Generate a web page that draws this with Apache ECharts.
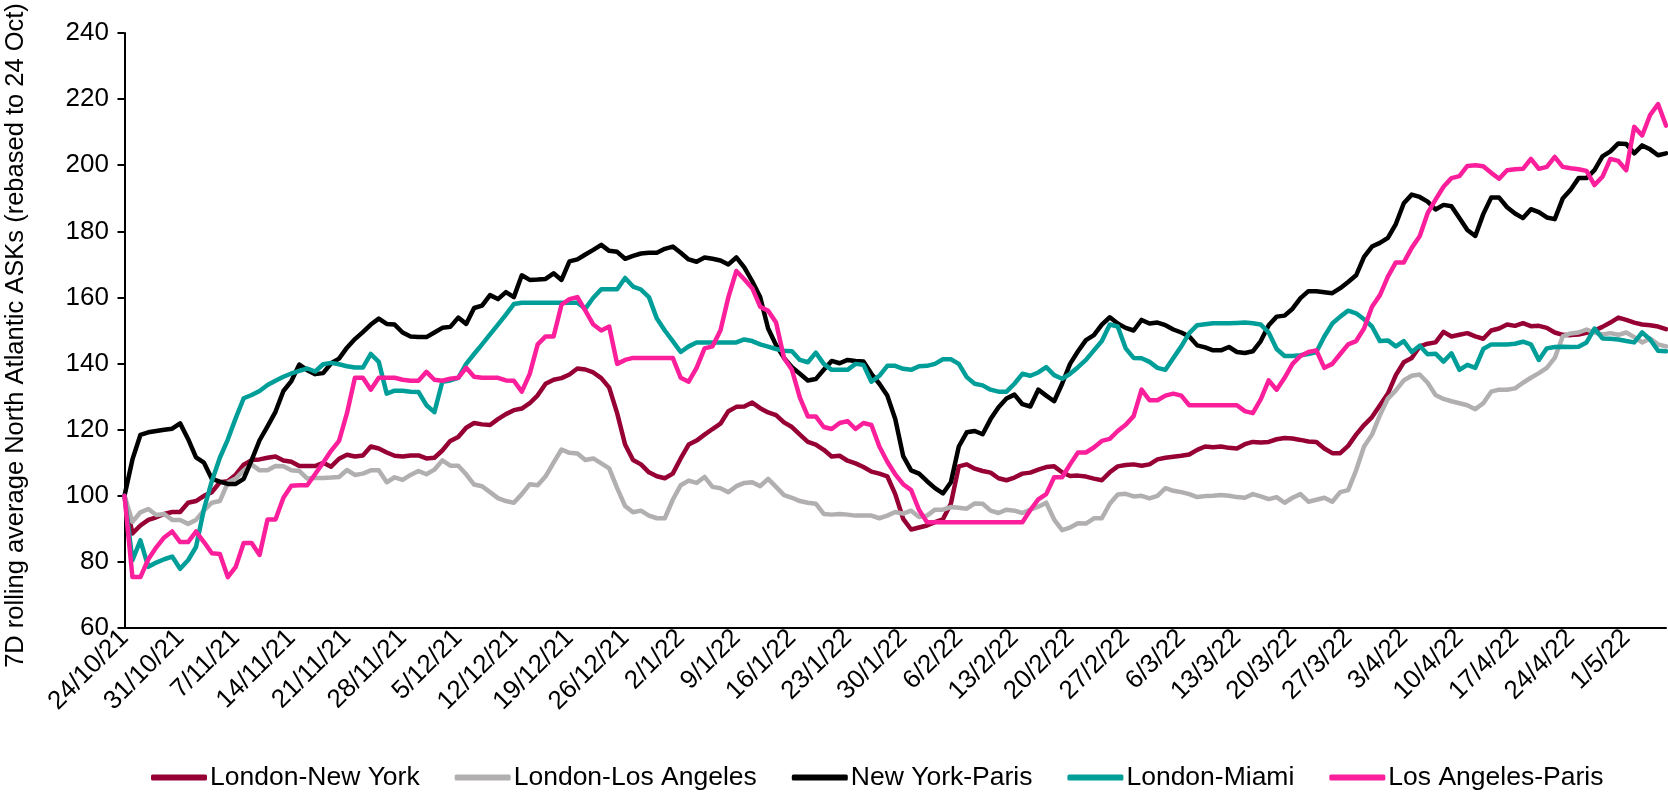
<!DOCTYPE html>
<html>
<head>
<meta charset="utf-8">
<script src="https://cdn.jsdelivr.net/npm/echarts@6/dist/echarts.min.js"></script>
<style>
html,body{margin:0;padding:0;background:#fff;}
#chart{width:1668px;height:796px;}
</style>
</head>
<body>
<div id="chart"></div>
<script>
// Daily categories from 24/10/21 (195 days)
const startDate = [2021, 9, 24];
const dayCount = 195;
const categories = [];
for (let i = 0; i < dayCount; i++) {
  const d = new Date(Date.UTC(startDate[0], startDate[1], startDate[2] + i));
  categories.push(d.getUTCDate() + '/' + (d.getUTCMonth() + 1) + '/' + String(d.getUTCFullYear() % 100));
}

const seriesNames = ['London-New York', 'London-Los Angeles', 'New York-Paris', 'London-Miami', 'Los Angeles-Paris'];
const yTicks = [60, 80, 100, 120, 140, 160, 180, 200, 220, 240];
const yTitle = '7D rolling average North Atlantic ASKs (rebased to 24 Oct)';

const londonNewYork = [100,88.6,91,92.7,93.5,94.5,95.1,95.1,97.9,98.4,
100,101.1,104.1,104.4,106.4,109.4,110.8,111,111.5,111.9,
110.7,110.3,109,109,109,110,108.8,111.2,112.4,111.9,
112.2,114.9,114.3,113.1,112.1,111.9,112.2,112.2,111.3,111.5,
113.7,116.6,117.8,120.6,122,121.6,121.4,123.2,124.7,125.9,
126.4,128,130.4,133.9,135.1,135.6,136.7,138.5,138.2,137.3,
135.6,132.7,125,115.5,110.8,109.5,107.1,105.9,105.3,106.7,
111.3,115.5,116.7,118.5,120.2,121.8,125.6,126.9,127,128.2,
126.5,125.2,124.4,122.2,120.8,118.5,116.3,115.5,113.9,111.9,
112.1,110.6,109.8,108.7,107.3,106.7,105.9,100.5,93,89.8,
90.4,91,92,92.9,97.6,108.9,109.5,108.2,107.5,107,
105.3,104.7,105.5,106.7,107,107.9,108.7,108.9,107.1,106,
106.1,105.8,105.2,104.7,107.1,108.9,109.3,109.5,109.1,109.5,
111,111.5,111.8,112.1,112.5,113.9,114.9,114.7,114.9,114.5,
114.3,115.6,116.3,116.1,116.3,117.1,117.5,117.3,116.9,116.4,
116.3,114.3,112.9,112.9,115.1,118.5,121.4,123.8,127.4,130.9,
136.5,140.4,141.7,145.2,146,146.4,149.6,148.2,148.7,149.2,
148.2,147.5,150,150.6,151.8,151.4,152.2,151.3,151.4,150.8,
149.4,148.7,148.6,148.8,149.3,150,151.1,152.4,153.9,153.2,
152.4,151.8,151.6,151.2,150.4];

const londonLosAngeles = [100,92.1,95,96,94.2,94.5,92.7,92.7,91.5,92.7,
95.6,97.9,98.4,104,105.2,107.7,109.4,107.7,107.7,109,
108.9,107.7,107.5,105.2,105.4,105.4,105.5,105.7,107.8,106.3,
106.7,107.7,107.7,104.1,105.6,104.8,106.3,107.5,106.5,107.9,
110.7,109.1,109.1,106.5,103.4,102.9,101.1,99.3,98.4,97.9,
100.5,103.5,103.2,105.9,110,114,113,112.8,110.8,111.3,
109.8,108.3,102.3,96.9,95,95.5,94,93.2,93.2,98.8,
103.2,104.6,103.9,105.7,102.7,102.3,101.1,102.9,103.9,104.1,
102.9,105.1,102.7,100.2,99.4,98.4,97.9,97.6,94.5,94.3,
94.5,94.3,94,94,94,93.2,94,95.1,94.6,95.5,
93.6,94,95.8,95.8,96.6,96.4,96.1,97.7,97.6,95.5,
94.8,95.8,95.5,94.8,95.8,96.7,97.9,92.8,89.6,90.4,
91.7,91.6,93.2,93.2,97.6,100.4,100.6,99.8,100,99.2,
100,102.3,101.5,101.1,100.5,99.6,99.9,100,100.2,100,
99.6,99.4,100.5,99.8,99,99.6,97.9,99.4,100.5,98.2,
98.8,99.4,98.2,101.1,101.7,107.7,114.9,118.5,124.4,129.4,
131.9,134.9,136.3,136.7,134.2,130.5,129.3,128.6,128,127.4,
126.2,128,131.5,132.1,132.1,132.5,134.2,135.7,137.1,138.7,
141.7,148.2,149.1,149.4,150.3,149.4,148.8,149.2,148.7,149.4,
148,146.4,147.6,145.8,145.2];

const newYorkParis = [100,111,118.4,119.2,119.6,120,120.3,121.9,117.2,111.6,
110,105.1,104.3,103.6,103.6,105.1,110.8,116.8,121,125.4,
131.7,134.7,139.7,138,136.8,137.1,140.1,141.5,144.8,147.4,
149.5,151.8,153.6,152,151.8,149.4,148.2,148,148,149.4,
150.8,151.1,153.9,152,156.8,157.5,160.7,159.5,161.6,160.1,
166.7,165.3,165.4,165.6,167.3,165.3,170.9,171.5,173,174.4,
175.9,174.1,173.8,171.7,172.6,173.3,173.5,173.5,174.7,175.4,
173.5,171.5,170.8,172.1,171.7,171.2,170,172.1,169.1,164.9,
160.1,150.6,145.6,141.7,138.9,136.9,134.9,135.3,138.1,140.8,
140.1,141.1,140.8,140.6,136.9,133.9,130.3,123.2,112,107.7,
106.7,104.4,102.3,100.7,104.1,114.9,119.2,119.6,118.6,123.2,
126.8,129.4,130.6,127.7,127,132.1,130.3,128.6,133.9,139.9,
143.7,147.1,148.6,151.8,154,152.1,150.8,150,153.2,152.1,
152.4,151.6,150.3,149.4,148.2,145.5,144.9,144,144,145,
143.5,143.2,143.7,146.8,151.6,154.2,154.5,156.6,159.8,161.9,
161.9,161.6,161.3,162.8,164.7,166.7,172.3,175.4,176.5,178,
182.2,188.5,191.1,190.4,189,186.6,188,187.6,184,180.4,
178.6,185.2,190.2,190.2,187.3,185.4,184,186.7,185.8,184.2,
183.7,189.9,192.6,196.1,196.1,198.5,202.7,204.2,206.6,206.4,
203.6,206,204.8,203,203.6];

const londonMiami = [100,80.5,86.5,78.5,79.8,80.8,81.6,77.9,80.5,84.5,
96,104.5,111.5,117,123.5,129.5,130.5,131.7,133.5,134.8,
136,137,137.8,138.5,137.6,139.8,140.2,139.8,139.2,138.8,
138.8,142.9,140.5,130.9,131.8,131.8,131.5,131.4,127.4,125.3,
134.5,134.9,135.7,139.9,142.9,145.8,148.8,151.8,154.8,158,
158.4,158.4,158.4,158.4,158.4,158.4,158.4,158.4,156.6,159.9,
162.5,162.5,162.5,165.9,163.3,162.4,160.1,153.6,150,146.8,
143.5,145.2,146.4,146.4,146.4,146.4,146.4,146.4,147.3,146.8,
145.8,145.1,144.4,143.9,143.7,141.1,140.4,143.3,139.9,138.1,
138.1,138.1,139.9,139.6,134.5,136.3,139.3,139.3,138.4,138.1,
139.2,139.3,139.9,141.3,141.3,139.9,135.9,133.9,133.4,132.1,
131.5,131.5,133.9,136.9,136.3,137.3,138.9,136.5,135.4,136.9,
138.9,141.1,144,146.8,151.8,151.2,144.6,141.7,141.6,140.5,
138.7,138.1,141.7,145.2,149.2,151.6,151.9,152.2,152.2,152.2,
152.3,152.4,152.2,151.8,149.4,144.4,142.3,142.3,142.5,142.9,
143.5,148.2,152.1,154.2,156,155.2,153.4,151.2,146.8,147,
145.2,146.8,143.5,145.4,142.8,143,140.6,143.1,138.1,139.6,
138.7,144.4,145.8,145.8,145.8,146,146.6,145.8,141.1,144.6,
145,145.1,145,145.1,146.4,150.6,147.6,147.5,147.3,146.8,
146.4,149.4,147.3,143.9,143.7];

const losAngelesParis = [100,75.4,75.4,80.8,84.4,87.4,89.2,86,86,89.2,
86,82.6,82.4,75.4,78.5,85.7,85.7,82.1,92.8,92.8,
99.4,103,103.2,103.2,106.6,110,113.6,116.6,125,135.7,
135.7,132.1,135.7,135.7,135.7,135.1,134.8,134.8,137.5,135.1,
134.8,135.4,135.7,138.7,136,135.7,135.7,135.7,134.9,134.8,
131.5,136.9,145.8,148.2,148.2,157.8,159.5,160.1,156,151.8,
150,151.2,139.9,141.1,141.7,141.7,141.7,141.7,141.7,141.7,
135.7,134.5,138.7,144.6,145.2,150,160.1,168,165.5,162.8,
157.2,156,152.4,141.7,138.1,129.7,124,124,120.8,120.2,
122,122.6,120.2,122,121.4,114.9,110.3,106.5,103.5,101.7,
95.7,92,92,92,92,92,92,92,92,92,
92,92,92,92,95.7,98.9,100.5,105.6,105.6,109.5,
113.1,113.1,114.6,116.6,117.2,119.6,121.5,124.1,132.1,128.9,
128.9,130.3,130.9,130.3,127.4,127.4,127.4,127.4,127.4,127.4,
127.4,125.6,125,129.2,134.9,132.1,135.7,139.9,142.3,143.5,
144,138.7,139.9,142.9,145.8,146.8,150.6,157.2,160.7,166.3,
170.6,170.6,175,178.5,185.5,189.6,193.5,196.1,196.7,199.8,
200,199.7,197.7,195.9,198.5,198.8,198.9,201.9,198.9,199.5,
202.5,199.5,199.1,198.8,198.3,194,196.5,201.9,201.3,198.5,
211.6,209,215.2,218.5,212];

const seriesData = [londonNewYork, londonLosAngeles, newYorkParis, londonMiami, losAngelesParis];
const seriesColors = ['#960034', '#b1afaf', '#000000', '#009e99', '#fb1f9c'];

const FONT = '"Liberation Sans", Arial, sans-serif';

const chart = echarts.init(document.getElementById('chart'), null, {renderer: 'canvas'});
chart.setOption({
  animation: false,
  backgroundColor: '#ffffff',
  grid: {left: 124.5, right: 2, top: 33, bottom: 168, containLabel: false, outerBoundsMode: 'none'},
  graphic: [{
    type: 'text',
    x: 16,
    y: 335.5,
    rotation: Math.PI / 2,
    silent: true,
    style: {
      text: yTitle,
      fill: '#000',
      font: '25.5px "Liberation Sans", Arial, sans-serif',
      textAlign: 'center',
      textVerticalAlign: 'middle'
    }
  }],
  xAxis: {
    type: 'category',
    data: categories,
    boundaryGap: false,
    axisLine: {show: true, lineStyle: {color: '#000', width: 2}},
    axisTick: {show: false},
    splitLine: {show: false},
    axisLabel: {interval: 6, rotate: 45, margin: 6, color: '#000', fontSize: 26, fontFamily: FONT}
  },
  yAxis: {
    type: 'value',
    min: yTicks[0],
    max: yTicks[yTicks.length - 1],
    interval: yTicks[1] - yTicks[0],
    axisLine: {show: true, lineStyle: {color: '#000', width: 2}},
    axisTick: {show: true, length: 7, lineStyle: {color: '#000', width: 2}},
    axisLabel: {color: '#000', fontSize: 26, margin: 15.5, fontFamily: FONT},
    splitLine: {show: false}
  },
  legend: {
    data: seriesNames,
    left: 151,
    top: 764,
    padding: 0,
    itemWidth: 56,
    itemHeight: 6,
    itemGap: 35,
    icon: 'roundRect',
    textStyle: {fontSize: 26.5, color: '#000', fontFamily: FONT, padding: [0, 0, 0, -2]}
  },
  series: seriesNames.map((name, i) => ({
    name: name,
    type: 'line',
    data: seriesData[i],
    symbol: 'none',
    showSymbol: false,
    color: seriesColors[i],
    lineStyle: {width: 4.5, color: seriesColors[i], join: 'round', cap: 'round'},
    emphasis: {disabled: true}
  }))
});
</script>
</body>
</html>
